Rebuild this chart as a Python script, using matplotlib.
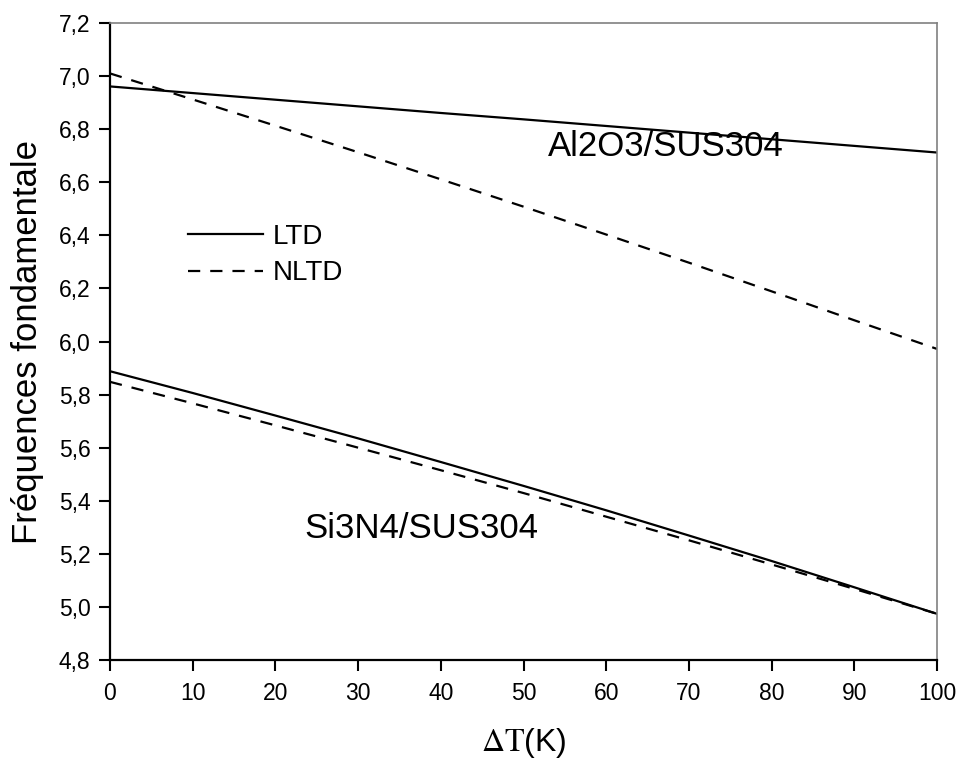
import matplotlib
matplotlib.use("Agg")
import matplotlib.pyplot as plt

# ---- data ----
delta_T = [0, 10, 20, 30, 40, 50, 60, 70, 80, 90, 100]
al2o3_ltd = [6.961, 6.936, 6.911, 6.886, 6.861, 6.837, 6.812, 6.787, 6.762, 6.737, 6.712]
al2o3_nltd = [7.010, 6.912, 6.813, 6.713, 6.611, 6.508, 6.403, 6.297, 6.189, 6.080, 5.972]
si3n4_ltd = [5.888, 5.806, 5.721, 5.635, 5.546, 5.456, 5.364, 5.269, 5.173, 5.074, 4.974]
si3n4_nltd = [5.848, 5.767, 5.684, 5.600, 5.515, 5.429, 5.340, 5.251, 5.160, 5.068, 4.974]
x_ticks = [0, 10, 20, 30, 40, 50, 60, 70, 80, 90, 100]
y_ticks = [4.8, 5.0, 5.2, 5.4, 5.6, 5.8, 6.0, 6.2, 6.4, 6.6, 6.8, 7.0, 7.2]
y_tick_labels = ["4,8", "5,0", "5,2", "5,4", "5,6", "5,8", "6,0", "6,2", "6,4", "6,6", "6,8", "7,0", "7,2"]

plt.rcParams['font.family'] = ['Liberation Sans', 'DejaVu Sans']
plt.rcParams['mathtext.fontset'] = 'stix'

fig = plt.figure(figsize=(9.6, 7.6), dpi=100)
ax = fig.add_axes([110/960, 1 - 660/760, (937 - 110)/960, (660 - 23)/760])

lw = 1.6
dash = (5.5, 4.5)
ax.plot(delta_T, al2o3_ltd, color='black', lw=lw, label='LTD')
ax.plot(delta_T, al2o3_nltd, color='black', lw=lw, dashes=dash, label='NLTD')
ax.plot(delta_T, si3n4_ltd, color='black', lw=lw)
ax.plot(delta_T, si3n4_nltd, color='black', lw=lw, dashes=dash)

ax.set_xlim(0, 100)
ax.set_ylim(4.8, 7.2)
ax.set_xticks(x_ticks)
ax.set_yticks(y_ticks)
ax.set_yticklabels(y_tick_labels)

for s in ['left', 'bottom']:
    ax.spines[s].set_linewidth(1.6)
    ax.spines[s].set_color('black')
for s in ['top', 'right']:
    ax.spines[s].set_linewidth(1.2)
    ax.spines[s].set_color('#808080')

ax.tick_params(axis='both', which='both', direction='out', length=8, width=1.5,
               labelsize=16.5, pad=6, top=False, right=False)
ax.tick_params(axis='x', pad=8)

ax.set_ylabel('Fréquences fondamentale', fontsize=25, labelpad=11)
ax.set_xlabel(r'$\mathrm{\Delta T}$(K)', fontsize=23, labelpad=15)

ax.text(53.0, 6.70, 'Al2O3/SUS304', fontsize=25, ha='left', va='baseline')
ax.text(23.5, 5.26, 'Si3N4/SUS304', fontsize=25, ha='left', va='baseline')

leg = ax.legend(loc='upper left', bbox_to_anchor=(0.081, 0.702), frameon=False,
                fontsize=20, handlelength=2.7, handletextpad=0.35,
                labelspacing=0.38, borderaxespad=0)

fig.savefig('out.png', dpi=100)
